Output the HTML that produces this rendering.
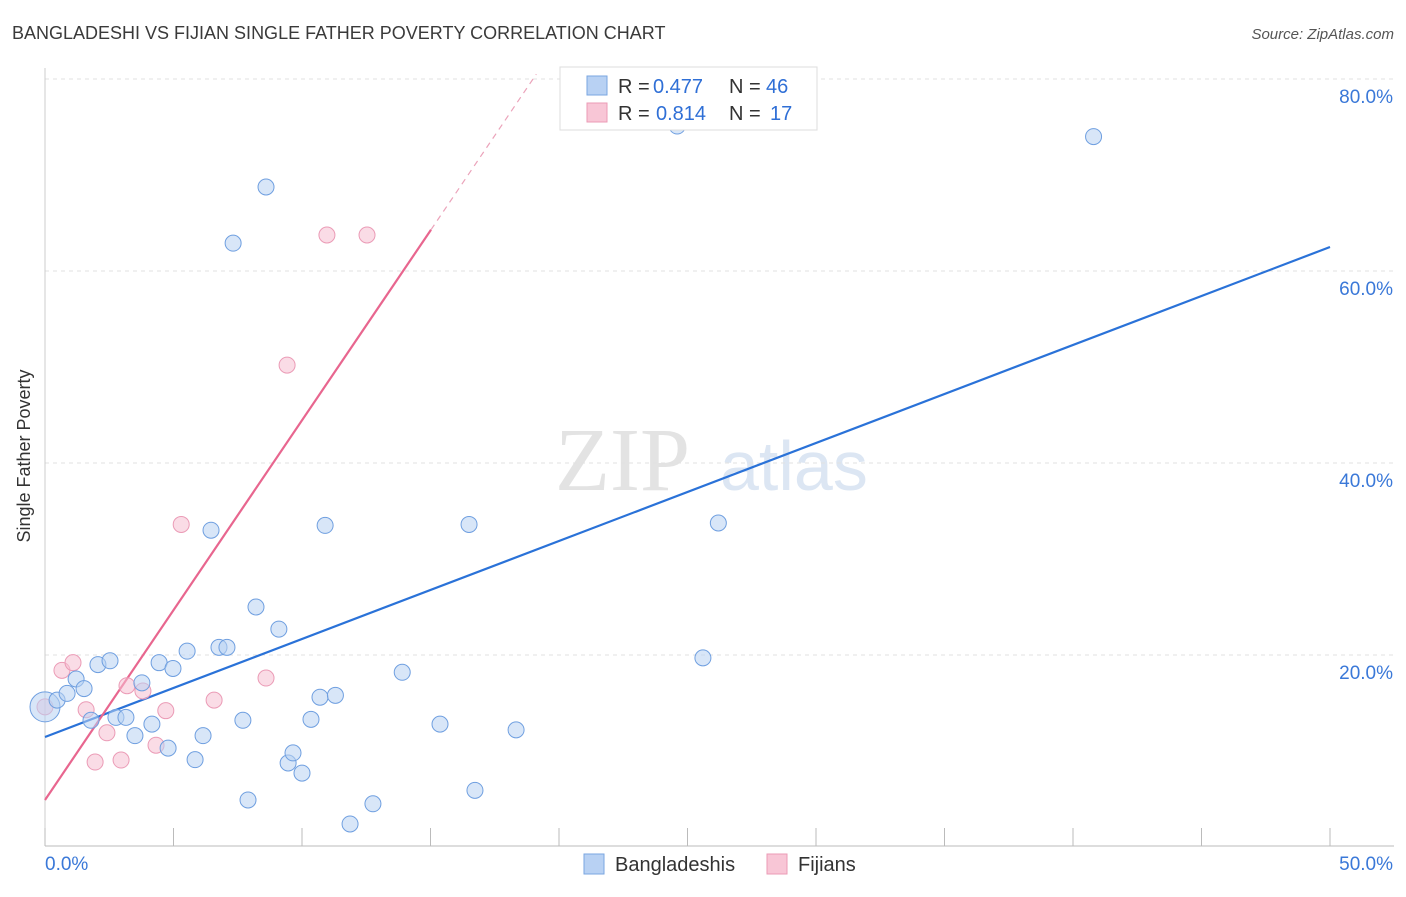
<!DOCTYPE html>
<html><head><meta charset="utf-8"><style>
body{margin:0;background:#fff;font-family:"Liberation Sans",sans-serif;}
</style></head><body>
<svg width="1406" height="892" xmlns="http://www.w3.org/2000/svg" id="chart">
<text x="12" y="39" font-size="18" fill="#3a3a3a">BANGLADESHI VS FIJIAN SINGLE FATHER POVERTY CORRELATION CHART</text>
<text x="1394" y="39" font-size="15" fill="#555" font-style="italic" text-anchor="end">Source: ZipAtlas.com</text>
<text x="30" y="456" font-size="18" fill="#333" transform="rotate(-90 30 456)" text-anchor="middle">Single Father Poverty</text>
<g><text x="555" y="490" font-size="90" fill="#e3e3e3" font-family="Liberation Serif,serif">ZIP</text><text x="720" y="490" font-size="70" fill="#dce6f3">atlas</text></g>
<g id="grid"></g><g id="axes"></g><g id="trends"></g><g id="points"></g>
<g>
<rect x="560" y="67" width="257" height="63" fill="#fff" stroke="#ddd"/>
<rect x="587" y="76" width="20" height="19" fill="#b8d1f3" stroke="#7aa6e0"/>
<rect x="587" y="103" width="20" height="19" fill="#f8c6d6" stroke="#eb9bb6"/>
<text x="618" y="93" font-size="20" fill="#333">R =</text>
<text x="653" y="93" font-size="20" fill="#2f6fd6">0.477</text>
<text x="729" y="93" font-size="20" fill="#333">N =</text>
<text x="766" y="93" font-size="20" fill="#2f6fd6">46</text>
<text x="618" y="120" font-size="20" fill="#333">R =</text>
<text x="656" y="120" font-size="20" fill="#2f6fd6">0.814</text>
<text x="729" y="120" font-size="20" fill="#333">N =</text>
<text x="770" y="120" font-size="20" fill="#2f6fd6">17</text>
</g>
<g>
<rect x="584" y="854" width="20" height="20" fill="#b8d1f3" stroke="#7aa6e0"/>
<text x="615" y="871" font-size="20" fill="#333">Bangladeshis</text>
<rect x="767" y="854" width="20" height="20" fill="#f8c6d6" stroke="#eb9bb6"/>
<text x="798" y="871" font-size="20" fill="#333">Fijians</text>
</g>
</svg>
<script>
const blueX=[0,0.47,0.86,1.21,1.52,2.06,2.53,1.79,2.76,3.15,3.5,3.77,4.16,4.44,4.79,4.98,5.53,5.84,6.15,6.46,6.77,7.08,7.32,7.7,7.9,8.21,8.6,9.1,9.46,9.65,10.0,10.35,10.7,10.9,11.3,11.87,12.76,13.9,15.37,16.5,16.73,18.33,24.6,25.6,26.2,40.8];
const blueY=[14.6,15.3,16.0,17.5,16.5,19.0,19.4,13.2,13.5,13.5,11.6,17.1,12.8,19.2,10.3,18.6,20.4,9.1,11.6,33.0,20.8,20.8,62.9,13.2,4.9,25.0,68.75,22.7,8.75,9.8,7.7,13.3,15.6,33.5,15.8,2.4,4.5,18.2,12.8,33.6,5.9,12.2,75.1,19.7,33.75,74.0];
const pinkX=[0,0.66,1.09,1.6,1.95,2.41,2.96,3.19,3.81,4.32,4.7,5.3,6.58,8.6,9.42,10.97,12.53];
const pinkY=[14.6,18.4,19.2,14.3,8.85,11.9,9.06,16.8,16.25,10.6,14.2,33.6,15.3,17.6,50.2,63.75,63.75];
const blueTrend=[11.46,62.5];
const pinkTrend=[4.9,64.3,15.02];
const yTicks=[20,40,60,80];
const xLabels=["0.0%","50.0%"];
const NS="http://www.w3.org/2000/svg";
const sx=v=>45+v*25.7, sy=v=>847-v*9.6;
function mk(t,a,p){const e=document.createElementNS(NS,t);for(const k in a)e.setAttribute(k,a[k]);p.appendChild(e);return e;}
const grid=document.getElementById('grid'),axes=document.getElementById('axes'),tr=document.getElementById('trends'),pts=document.getElementById('points');
yTicks.forEach(t=>{
 const l=mk('line',{x1:45,x2:1394,y1:sy(t),y2:sy(t),stroke:'#e2e2e2','stroke-dasharray':'4,4'},grid);
 
 
 const tx=mk('text',{x:1393,y:sy(t)+24,'font-size':19,fill:'#3a78d8','text-anchor':'end'},axes);tx.textContent=t.toFixed(1)+'%';
 
 
});
const ax=mk('line',{x1:45,x2:1394,y1:846,y2:846,stroke:'#bbb'},axes);


const ay=mk('line',{x1:45,x2:45,y1:68,y2:846,stroke:'#ccc'},axes);


for(let i=0;i<=10;i++){const k=mk('line',{x1:sx(i*5),x2:sx(i*5),y1:828,y2:846,stroke:'#bbb'},axes);
 
 }
const xl0=mk('text',{x:45,y:870,'font-size':19,fill:'#3a78d8'},axes);xl0.textContent=xLabels[0];


const xl1=mk('text',{x:1393,y:870,'font-size':19,fill:'#3a78d8','text-anchor':'end'},axes);xl1.textContent=xLabels[1];


function dots(X,Y,fill,stroke,name){X.forEach((x,i)=>{const c=mk('circle',{cx:sx(x),cy:sy(Y[i]),r:(i==0&&name=='bangladeshi')?15:8,fill:fill,stroke:stroke,'stroke-width':1,'fill-opacity':0.55},pts);
 
 });}
dots(pinkX,pinkY,'#f6bfd1','#eb9bb6','fijian');
dots(blueX,blueY,'#b8d1f3','#6f9fe0','bangladeshi');
const bl=mk('line',{x1:sx(0),y1:sy(blueTrend[0]),x2:sx(50),y2:sy(blueTrend[1]),stroke:'#2a72d8','stroke-width':2.2},tr);


const pl=mk('line',{x1:sx(0),y1:sy(pinkTrend[0]),x2:sx(pinkTrend[2]),y2:sy(pinkTrend[1]),stroke:'#e8668f','stroke-width':2.2},tr);


const slope=(pinkTrend[1]-pinkTrend[0])/pinkTrend[2], xe=(80.5-pinkTrend[0])/slope;
const pd=mk('line',{x1:sx(pinkTrend[2]),y1:sy(pinkTrend[1]),x2:sx(xe),y2:sy(80.5),stroke:'#eba3ba','stroke-width':1.2,'stroke-dasharray':'6,5'},tr);


</script>
</body></html>
